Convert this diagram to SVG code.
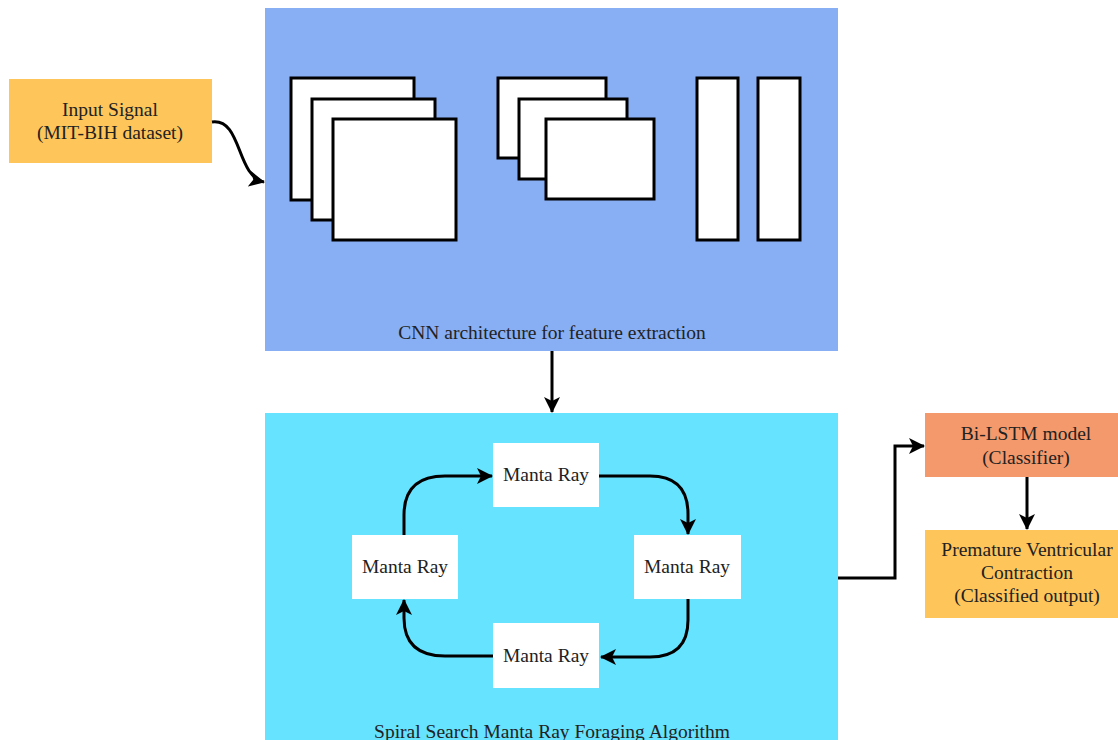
<svg xmlns="http://www.w3.org/2000/svg" width="1118" height="740" viewBox="0 0 1118 740">
  <style>
    .lbl { font-family: "Liberation Serif", "Times New Roman", serif; font-size: 19.5px; fill: #222; text-anchor: middle; }
    .layer { fill: #fff; stroke: #000; stroke-width: 3; }
    .edge { fill: none; stroke: #000; stroke-width: 3; }
    .mr { fill: #fff; }
  </style>
  <defs>
    <marker id="arrow" markerUnits="userSpaceOnUse" markerWidth="17" markerHeight="16" refX="15" refY="8" orient="auto">
      <path d="M0,0 L16,8 L0,16 L4,8 Z" fill="#000"/>
    </marker>
  </defs>

  <rect width="1118" height="740" fill="#fff"/>

  <!-- input -->
  <g id="input-signal">
    <rect x="9" y="79" width="203" height="84" fill="#FEC55B"/>
    <text class="lbl" x="110" y="116">Input Signal</text>
    <text class="lbl" x="110" y="139">(MIT-BIH dataset)</text>
  </g>

  <!-- CNN block -->
  <g id="cnn">
    <rect x="265" y="8" width="573" height="343" fill="#88AFF4"/>
    <rect class="layer" x="291" y="78" width="123" height="122"/>
    <rect class="layer" x="312" y="99" width="123" height="121"/>
    <rect class="layer" x="333" y="119" width="123" height="121"/>
    <rect class="layer" x="498" y="78" width="108" height="80"/>
    <rect class="layer" x="519" y="99" width="108" height="80"/>
    <rect class="layer" x="546" y="119" width="108" height="80"/>
    <rect class="layer" x="697" y="78" width="41" height="162"/>
    <rect class="layer" x="758" y="78" width="42" height="162"/>
    <text class="lbl" x="552" y="339">CNN architecture for feature extraction</text>
  </g>

  <!-- MRFO block -->
  <g id="mrfo">
    <rect x="265" y="413" width="573" height="340" fill="#66E3FF"/>
    <text class="lbl" x="552" y="738">Spiral Search Manta Ray Foraging Algorithm</text>
  </g>
  <g id="ray-top">
    <rect class="mr" x="493" y="443" width="106" height="64"/>
    <text class="lbl" x="546" y="481">Manta Ray</text>
  </g>
  <g id="ray-right">
    <rect class="mr" x="634" y="535" width="107" height="64"/>
    <text class="lbl" x="687" y="573">Manta Ray</text>
  </g>
  <g id="ray-bottom">
    <rect class="mr" x="493" y="623" width="106" height="65"/>
    <text class="lbl" x="546" y="662">Manta Ray</text>
  </g>
  <g id="ray-left">
    <rect class="mr" x="352" y="535" width="106" height="64"/>
    <text class="lbl" x="405" y="573">Manta Ray</text>
  </g>

  <!-- classifier -->
  <g id="bilstm">
    <rect x="925" y="413" width="193" height="64" fill="#F4996C"/>
    <text class="lbl" x="1026" y="440">Bi-LSTM model</text>
    <text class="lbl" x="1026" y="464">(Classifier)</text>
  </g>
  <g id="pvc">
    <rect x="925" y="530" width="193" height="88" fill="#FEC55B"/>
    <text class="lbl" x="1027" y="556">Premature Ventricular</text>
    <text class="lbl" x="1027" y="579">Contraction</text>
    <text class="lbl" x="1027" y="602">(Classified output)</text>
  </g>

  <!-- connectors -->
  <g id="connectors">
    <path class="edge" d="M212,122 C242,118 236,176 264,182" marker-end="url(#arrow)"/>
    <path class="edge" d="M552,351 L552,412" marker-end="url(#arrow)"/>
    <path class="edge" d="M599,476 L650,476 Q688,476 688,514 L688,534" marker-end="url(#arrow)"/>
    <path class="edge" d="M688,599 L688,620 Q688,657 650,657 L601,657" marker-end="url(#arrow)"/>
    <path class="edge" d="M493,656 L445,656 Q404,656 404,618 L404,600" marker-end="url(#arrow)"/>
    <path class="edge" d="M404,535 L404,515 Q404,476 445,476 L492,476" marker-end="url(#arrow)"/>
    <path class="edge" d="M838,578 L895,578 L895,446 L924,446" marker-end="url(#arrow)"/>
    <path class="edge" d="M1027,477 L1027,529" marker-end="url(#arrow)"/>
  </g>
</svg>
